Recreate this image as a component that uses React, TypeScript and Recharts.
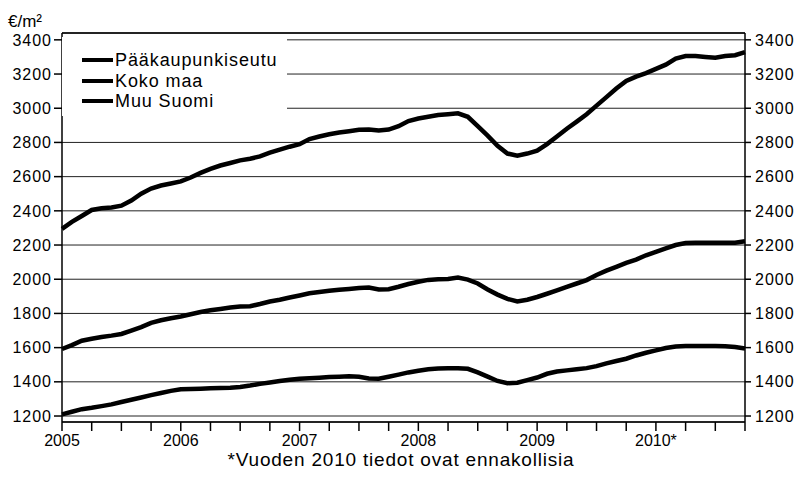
import React from "react";
import { LineChart, Line, XAxis, YAxis, CartesianGrid, Legend, ReferenceLine } from "recharts";

// monthly, Jan 2005 .. Oct 2010 (index 0..69)
const PAAKAUPUNKISEUTU = [
  2295, 2335, 2370, 2405, 2415, 2420, 2430, 2460, 2500, 2530, 2548, 2560,
  2572, 2595, 2622, 2645, 2665, 2680, 2695, 2705, 2718, 2740, 2758, 2775,
  2790, 2820, 2835, 2848, 2858, 2866, 2874, 2876, 2870, 2875, 2895, 2925,
  2940, 2950, 2960, 2965, 2970, 2950, 2895, 2840, 2780, 2735, 2722, 2735,
  2752, 2790, 2835, 2880, 2922, 2965, 3015, 3065, 3115, 3160, 3185, 3205,
  3230, 3255, 3290, 3305, 3305, 3300, 3295, 3305, 3310, 3328,
];
const KOKO_MAA = [
  1592, 1615, 1640, 1652, 1662, 1670, 1680, 1700, 1720, 1745, 1760, 1772,
  1782, 1795, 1808, 1818, 1826, 1834, 1840, 1842, 1855, 1870, 1880, 1893,
  1905, 1918, 1925, 1932, 1938, 1943, 1948, 1952, 1940, 1942, 1956, 1972,
  1985, 1996, 2000, 2002, 2010, 1998, 1975, 1940, 1910, 1885, 1870, 1880,
  1896, 1915, 1935, 1955, 1975, 1995, 2025, 2050, 2072, 2095, 2115, 2140,
  2160, 2180, 2200, 2212, 2213, 2213, 2213, 2214, 2214, 2222,
];
const MUU_SUOMI = [
  1210, 1225, 1240, 1248, 1258, 1268, 1282, 1295, 1308, 1322, 1335, 1347,
  1356, 1358, 1360, 1362, 1364, 1366, 1370, 1378, 1388, 1396, 1405, 1412,
  1418, 1421, 1424, 1428, 1430, 1432, 1430, 1420, 1418, 1430, 1442, 1455,
  1465, 1474, 1478, 1479, 1479, 1476, 1455, 1430, 1405, 1392, 1395, 1410,
  1425, 1447, 1460, 1467, 1474, 1480, 1492, 1508, 1522, 1535, 1554, 1570,
  1584, 1598, 1607, 1609, 1609, 1609, 1609, 1608, 1603, 1595,
];

const YEARS = ["2005", "2006", "2007", "2008", "2009", "2010*"];
const Y_TICKS = [1200, 1400, 1600, 1800, 2000, 2200, 2400, 2600, 2800, 3000, 3200, 3400];
const SERIES = [
  { key: "paak", name: "Pääkaupunkiseutu", values: PAAKAUPUNKISEUTU },
  { key: "koko", name: "Koko maa", values: KOKO_MAA },
  { key: "muu", name: "Muu Suomi", values: MUU_SUOMI },
];
const SERIES_NAMES = SERIES.map((s) => s.name);

const Y_MIN = 1165;
const Y_MAX = 3440;
const LAST = PAAKAUPUNKISEUTU.length - 1;
const X_TICKS = Array.from({ length: LAST / 3 + 1 }, (_, k) => k * 3);

const data = PAAKAUPUNKISEUTU.map((_, i) => ({
  i,
  paak: PAAKAUPUNKISEUTU[i],
  koko: KOKO_MAA[i],
  muu: MUU_SUOMI[i],
}));

const FONT = "'Liberation Sans', Arial, sans-serif";

function LegendBox(props: any) {
  // keep only the real series, in their original order
  const items = (props.payload || [])
    .filter((it: any) => SERIES_NAMES.includes(it.value))
    .sort((a: any, b: any) => SERIES_NAMES.indexOf(a.value) - SERIES_NAMES.indexOf(b.value));
  return (
    <div
      style={{
        background: "#fff",
        width: 225,
        height: 79,
        boxSizing: "border-box",
        paddingTop: 13,
        paddingLeft: 20,
        fontFamily: FONT,
        fontSize: 18,
        letterSpacing: "0.9px",
        color: "#000",
      }}
    >
      {items.map((it: any) => (
        <div key={it.value} style={{ display: "flex", alignItems: "center", height: 20.5 }}>
          <span style={{ display: "inline-block", width: 31, height: 4, background: "#000", marginRight: 2 }} />
          <span style={{ lineHeight: "18px" }}>{it.value}</span>
        </div>
      ))}
    </div>
  );
}

export default function App() {
  return (
    <div style={{ position: "absolute", left: 0, top: 0, width: 797, height: 495, background: "#fff", fontFamily: FONT }}>
      <div style={{ position: "absolute", left: 8, top: 12, fontSize: 17, color: "#000" }}>€/m²</div>
      <LineChart width={797} height={449} data={data} margin={{ top: 33, right: 0, left: 0, bottom: 0 }}>
        <CartesianGrid yAxisId="left" vertical={false} stroke="#222" strokeWidth={1} />
        <XAxis
          dataKey="i"
          type="number"
          domain={[0, LAST]}
          ticks={X_TICKS}
          interval={0}
          tickFormatter={(v: number) => (v % 12 === 0 ? YEARS[v / 12] : "")}
          height={27}
          tickSize={9}
          tickMargin={4}
          stroke="#000"
          tick={{ fontSize: 16, fill: "#000", fontFamily: FONT }}
          axisLine={{ stroke: "#000", strokeWidth: 1.5 }}
          tickLine={{ stroke: "#000", strokeWidth: 1.5 }}
        />
        <YAxis
          yAxisId="left"
          domain={[Y_MIN, Y_MAX]}
          ticks={Y_TICKS}
          interval={0}
          allowDataOverflow
          width={62}
          tickSize={8}
          tickMargin={2}
          tick={{ fontSize: 16, fill: "#000", fontFamily: FONT, letterSpacing: 1 }}
          axisLine={{ stroke: "#000", strokeWidth: 1.5 }}
          tickLine={{ stroke: "#000", strokeWidth: 1.5 }}
        />
        <YAxis
          yAxisId="right"
          orientation="right"
          domain={[Y_MIN, Y_MAX]}
          ticks={Y_TICKS}
          interval={0}
          allowDataOverflow
          width={52}
          tickSize={6}
          tickMargin={4}
          tick={{ fontSize: 16, fill: "#000", fontFamily: FONT, letterSpacing: 1 }}
          axisLine={{ stroke: "#000", strokeWidth: 1.5 }}
          tickLine={{ stroke: "#000", strokeWidth: 1.5 }}
        />
        <ReferenceLine yAxisId="left" y={Y_MAX} stroke="#000" strokeWidth={1.5} />
        {SERIES.map((s) => (
          <Line
            key={s.key}
            yAxisId="left"
            dataKey={s.key}
            name={s.name}
            type="linear"
            stroke="#000"
            strokeWidth={4.5}
            dot={false}
            isAnimationActive={false}
          />
        ))}
        <Line yAxisId="right" dataKey="paak" name="_right" stroke="none" dot={false} legendType="none" isAnimationActive={false} />
        <Legend
          layout="vertical"
          align="center"
          verticalAlign="middle"
          content={<LegendBox />}
          wrapperStyle={{ left: 62, top: 37, width: 225, height: 79 }}
        />
      </LineChart>
      <div
        style={{
          position: "absolute",
          left: 0,
          width: 802,
          top: 449,
          textAlign: "center",
          fontSize: 19,
          letterSpacing: "0.8px",
          color: "#000",
        }}
      >
        *Vuoden 2010 tiedot ovat ennakollisia
      </div>
    </div>
  );
}
